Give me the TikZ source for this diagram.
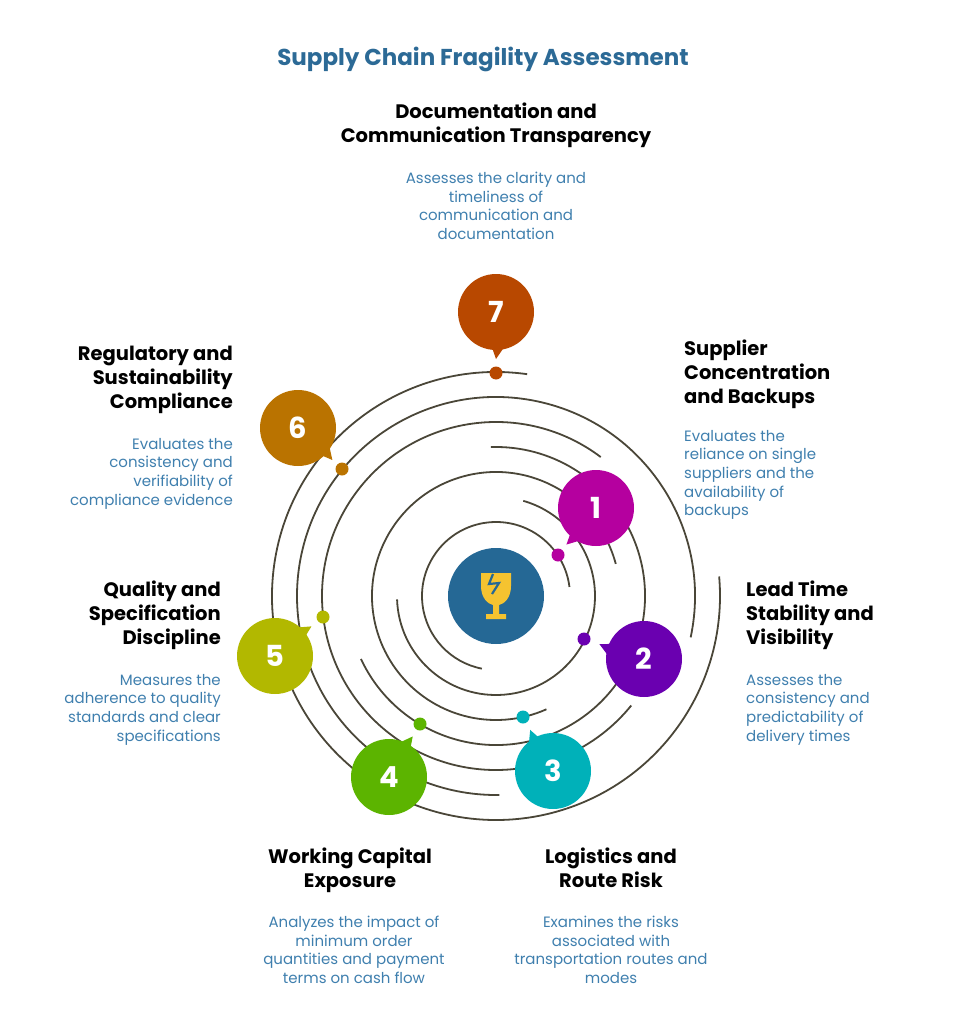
\documentclass[tikz,border=0pt]{standalone}
\usepackage{fontspec}
\setmainfont{Poppins}
\usetikzlibrary{calc}

\definecolor{ttl}{HTML}{2C6A96}
\definecolor{dsc}{HTML}{3F7FAE}
\definecolor{ring}{HTML}{4A4638}
\definecolor{hub}{HTML}{256895}
\definecolor{glass}{HTML}{F5C330}
\definecolor{cA}{HTML}{B5009F}
\definecolor{cB}{HTML}{6A00B0}
\definecolor{cC}{HTML}{00B1B9}
\definecolor{cD}{HTML}{5CB400}
\definecolor{cE}{HTML}{B2B800}
\definecolor{cF}{HTML}{BA7300}
\definecolor{cG}{HTML}{B84800}

\tikzset{
  bubble/.style={circle,fill=#1,minimum size=76pt,inner sep=0pt,text=white,
    font=\fontsize{29}{29}\selectfont\bfseries},
  dot/.style={circle,fill=#1,minimum size=13pt,inner sep=0pt},
  head/.style={inner sep=0pt,font=\fontsize{19.5}{24}\selectfont\bfseries},
  desc/.style={inner sep=0pt,text=dsc,font=\fontsize{15}{18.6}\selectfont},
}

\begin{document}
\begin{tikzpicture}[x=1pt,y=-1pt]
\useasboundingbox (0,0) rectangle (967,1024);

\coordinate (C) at (496,596);

% rings
\foreach \r/\a/\b in {74/7/259,99/182/434,124/15/294,149/205/452,174/53/321,199/-12/271,224/82/365}
  \draw[ring,line width=1.8pt] (C) ++(-\a:\r) arc[start angle=-\a,end angle=-\b,radius=\r];

% hub with broken glass
\node[circle,fill=hub,minimum size=96pt,inner sep=0pt] (hub) at (C) {};
\fill[glass] (481,573) -- (511,573) -- (511,586) .. controls (511,598) and (504,604) .. (499,605)
  -- (499,614) -- (506,614) -- (506,619) -- (486,619) -- (486,614) -- (493,614) -- (493,605)
  .. controls (488,604) and (481,598) .. (481,586) -- cycle;
\draw[hub,line width=2.2pt] (493,574) -- (489,584) -- (499,583) -- (492,594);

% markers
\foreach \n/\x/\y/\c in {1/596/508/cA,2/644/659/cB,3/553/771/cC,4/389/777/cD,5/275/656/cE,6/298/428/cF,7/496/312/cG}
  \node[bubble=\c] (b\n) at (\x,\y) {\n};
\foreach \n/\x/\y/\c in {1/558/555/cA,2/584/639/cB,3/523/717/cC,4/420/724/cD,5/323/617/cE,6/342/469/cF,7/496/373/cG}
  \node[dot=\c] (d\n) at (\x,\y) {};
\foreach \n/\c in {1/cA,2/cB,3/cC,4/cD,5/cE,6/cF,7/cG}
  \fill[\c] ($(b\n)!30pt!28:(d\n)$) -- ($(b\n)!47pt!(d\n)$) -- ($(b\n)!30pt!-12:(d\n)$) -- cycle;

% title
\node[inner sep=0pt,text=ttl,font=\fontsize{23}{26}\selectfont\bfseries] (title) at (483,59) {Supply Chain Fragility Assessment};

% texts
\node[head,align=center,anchor=north] (h7) at (496,103) {Documentation and\\Communication Transparency};
\node[desc,align=center,anchor=north] (t7) at (496,172) {Assesses the clarity and\\timeliness of\\communication and\\documentation};

\node[head,align=left,anchor=north west] (h1) at (684,340) {Supplier\\Concentration\\and Backups};
\node[desc,align=left,anchor=north west] (t1) at (684,430) {Evaluates the\\reliance on single\\suppliers and the\\availability of\\backups};

\node[head,align=left,anchor=north west] (h2) at (746,581) {Lead Time\\Stability and\\Visibility};
\node[desc,align=left,anchor=north west] (t2) at (746,674) {Assesses the\\consistency and\\predictability of\\delivery times};

\node[head,align=center,anchor=north] (h3) at (611,848) {Logistics and\\Route Risk};
\node[desc,align=center,anchor=north] (t3) at (611,916) {Examines the risks\\associated with\\transportation routes and\\modes};

\node[head,align=center,anchor=north] (h4) at (350,848) {Working Capital\\Exposure};
\node[desc,align=center,anchor=north] (t4) at (354,916) {Analyzes the impact of\\minimum order\\quantities and payment\\terms on cash flow};

\node[head,align=right,anchor=north east] (h5) at (221,581) {Quality and\\Specification\\Discipline};
\node[desc,align=right,anchor=north east] (t5) at (221,674) {Measures the\\adherence to quality\\standards and clear\\specifications};

\node[head,align=right,anchor=north east] (h6) at (233,346) {Regulatory and\\Sustainability\\Compliance};
\node[desc,align=right,anchor=north east] (t6) at (233,438) {Evaluates the\\consistency and\\verifiability of\\compliance evidence};
\end{tikzpicture}
\end{document}
